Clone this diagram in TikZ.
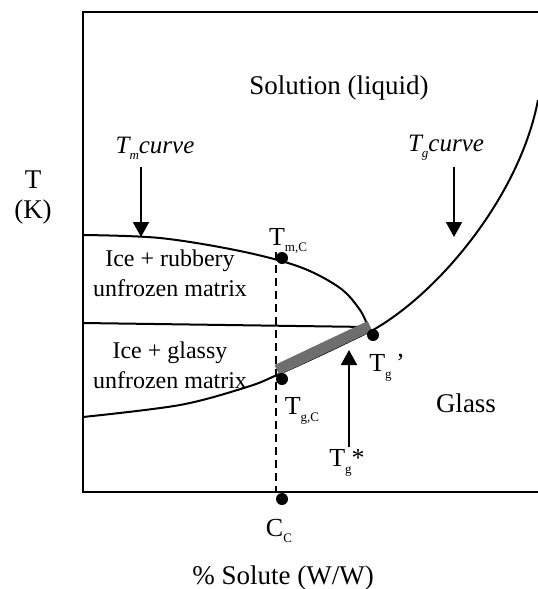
\documentclass[tikz,border=0pt]{standalone}
\usepackage{fontspec}
\setmainfont{Liberation Serif}
\usetikzlibrary{arrows.meta}
\definecolor{bargray}{RGB}{110,110,110}
\tikzset{
  txt/.style={inner sep=0pt, font=\fontsize{24}{26}\selectfont},
  big/.style={inner sep=0pt, font=\fontsize{27}{29}\selectfont},
  ptl/.style={inner sep=0pt, font=\fontsize{26}{28}\selectfont},
  itxt/.style={inner sep=0pt, font=\fontsize{25}{27}\selectfont\itshape},
  dot/.style={circle, fill=black, inner sep=0pt, minimum size=12pt},
  curve/.style={line width=2pt},
  frame/.style={line width=2.5pt},
  arr/.style={line width=2pt, -{Triangle[length=15pt,width=16pt]}}
}
\newcommand{\sbs}[1]{\raisebox{-0.55ex}{\fontsize{13}{13}\selectfont #1}}
\begin{document}
\begin{tikzpicture}[x=1pt,y=-1pt]
\useasboundingbox (0,0) rectangle (538,589);
% frame
\draw[frame] (538,12) -- (83,12) -- (83,492) -- (538,492);
% horizontal line
\coordinate (hl) at (83,323);
\coordinate (hr) at (368,327);
\draw[curve] (hl) -- (hr);
% Tm curve
\draw[curve] plot[smooth, tension=0.55] coordinates {(83,235) (160,238) (240,251) (300,267) (340,288) (360,310) (368,327)};
% Tg curve
\coordinate (gs) at (373,330);
\coordinate (ge) at (538,100);
\draw[curve] plot[smooth, tension=0.55] coordinates {(83,417) (180,405) (247,387) (277,375) (325,353) (373,330)}
  .. controls (440,292) and (520,195) .. (ge);
% gray bar
\coordinate (bl) at (277,370);
\coordinate (br) at (370,326);
\draw[bargray, line width=11pt] (bl) -- (br);
% dashed line
\coordinate (dtop) at (276,252);
\coordinate (dbot) at (276,492);
\draw[line width=2pt, dash pattern=on 8pt off 5pt] (dtop) -- (dbot);
% dots
\node[dot] (tmc) at (282,258) {};
\node[dot] (tgc) at (282,379) {};
\node[dot] (tgp) at (373,335) {};
\node[dot] (cc) at (282,499) {};
% arrows
\coordinate (a1s) at (141,167);
\coordinate (a1e) at (141,237);
\draw[arr] (a1s) -- (a1e);
\coordinate (a2s) at (454,167);
\coordinate (a2e) at (454,237);
\draw[arr] (a2s) -- (a2e);
\coordinate (a3s) at (349,447);
\coordinate (a3e) at (349,350);
\draw[arr] (a3s) -- (a3e);
% labels
\node[big] (sol) at (339,88) {Solution (liquid)};
\node[big] (tax) at (33,180) {T};
\node[big] (kax) at (33,212) {(K)};
\node[itxt] (tml) at (155,148) {T\sbs{m}curve};
\node[itxt] (tgl) at (446,148) {T\sbs{g}curve};
\node[ptl] (tmcl) at (288,241) {T\sbs{m,C}};
\node[txt, align=center] (rub) at (170,273) {Ice + rubbery\\[4pt]unfrozen matrix};
\node[txt, align=center] (gla) at (170,365) {Ice + glassy\\[4pt]unfrozen matrix};
\node[ptl] (tgpl) at (387,368) {T\sbs{g}\,’};
\node[ptl] (tgcl) at (302,411) {T\sbs{g,C}};
\node[big] (glass) at (466,403) {Glass};
\node[ptl] (tgs) at (347,463) {T\sbs{g}*};
\node[ptl] (ccl) at (279,531) {C\sbs{C}};
\node[big] (xax) at (283,578) {\% Solute (W/W)};
\end{tikzpicture}
\end{document}
